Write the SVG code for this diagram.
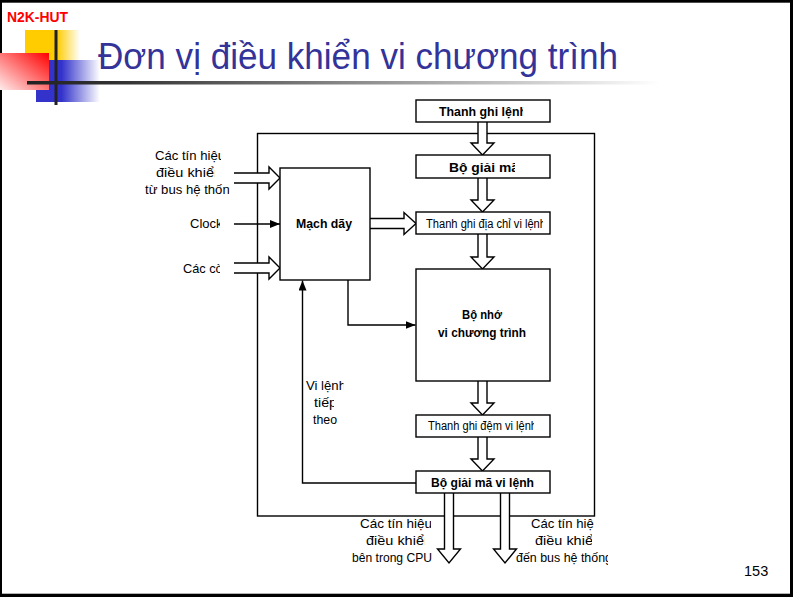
<svg xmlns="http://www.w3.org/2000/svg" width="793" height="597" viewBox="0 0 793 597">
  <defs>
    <style>
      .t { font-family: "Liberation Sans", Arial, sans-serif; font-size: 13px; fill: #000; }
      .b { font-weight: bold; }
      .s { font-size: 12px; }
      .box { fill: #fff; stroke: #000; stroke-width: 1.4; }
      .ln { fill: none; stroke: #000; stroke-width: 1.4; }
      .blk { fill: #fff; stroke: #000; stroke-width: 1.4; stroke-linejoin: miter; }
    </style>
    <marker id="ah" viewBox="0 0 10 8" refX="10" refY="4" markerWidth="10" markerHeight="8" markerUnits="userSpaceOnUse" orient="auto">
      <path d="M0,0 L10,4 L0,8 z" fill="#000"/>
    </marker>
    <linearGradient id="gYellow" x1="0" y1="0" x2="1" y2="0">
      <stop offset="0" stop-color="#FFCC00"/>
      <stop offset="0.58" stop-color="#FFCC00"/>
      <stop offset="1" stop-color="#FFFFFF"/>
    </linearGradient>
    <linearGradient id="gBlue" x1="0" y1="0" x2="1" y2="0">
      <stop offset="0" stop-color="#3333CC"/>
      <stop offset="0.4" stop-color="#3333CC"/>
      <stop offset="1" stop-color="#FFFFFF"/>
    </linearGradient>
    <linearGradient id="gRed" x1="1" y1="0" x2="0" y2="1">
      <stop offset="0" stop-color="#FF0000"/>
      <stop offset="1" stop-color="#FFECEC"/>
    </linearGradient>
    <linearGradient id="gRule" gradientUnits="userSpaceOnUse" x1="27" y1="0" x2="660" y2="0">
      <stop offset="0" stop-color="#222222"/>
      <stop offset="0.15" stop-color="#333333"/>
      <stop offset="1" stop-color="#FFFFFF"/>
    </linearGradient>
    <clipPath id="c1"><rect x="0" y="0" width="221" height="597"/></clipPath>
    <clipPath id="c2"><rect x="0" y="0" width="214.5" height="597"/></clipPath>
    <clipPath id="c3"><rect x="0" y="0" width="229.5" height="597"/></clipPath>
    <clipPath id="c4"><rect x="0" y="0" width="220" height="597"/></clipPath>
    <clipPath id="c7"><rect x="0" y="0" width="523" height="597"/></clipPath>
    <clipPath id="c8"><rect x="0" y="0" width="515" height="597"/></clipPath>
    <clipPath id="c9"><rect x="0" y="0" width="543" height="597"/></clipPath>
    <clipPath id="c12"><rect x="0" y="0" width="534" height="597"/></clipPath>
    <clipPath id="c14"><rect x="0" y="0" width="343.5" height="597"/></clipPath>
    <clipPath id="c15"><rect x="0" y="0" width="334" height="597"/></clipPath>
    <clipPath id="c17"><rect x="0" y="0" width="431" height="597"/></clipPath>
    <clipPath id="c18"><rect x="0" y="0" width="424.5" height="597"/></clipPath>
    <clipPath id="c20"><rect x="0" y="0" width="594" height="597"/></clipPath>
    <clipPath id="c21"><rect x="0" y="0" width="592" height="597"/></clipPath>
    <clipPath id="c22"><rect x="0" y="0" width="608" height="597"/></clipPath>
  </defs>

  <!-- slide frame -->
  <rect x="0" y="0" width="793" height="597" fill="#000"/>
  <rect x="2" y="2.7" width="788" height="591" fill="#fff"/>

  <!-- header ornament -->
  <g id="header">
    <rect x="25" y="30" width="55" height="30" fill="url(#gYellow)"/>
    <rect x="36" y="60" width="64" height="42" fill="url(#gBlue)"/>
    <rect x="0" y="53" width="49" height="37" fill="url(#gRed)"/>
    <rect x="54.5" y="30" width="3" height="75" fill="#222"/>
    <rect x="27" y="81" width="640" height="3.5" fill="url(#gRule)"/>
    <text x="7" y="21.5" font-family="Liberation Sans, Arial, sans-serif" font-size="15.5" font-weight="bold" fill="#FF0000" textLength="61" lengthAdjust="spacingAndGlyphs">N2K-HUT</text>
    <text x="98" y="69" font-family="Liberation Sans, Arial, sans-serif" font-size="37" fill="#333399" textLength="520" lengthAdjust="spacingAndGlyphs">Đơn vị điều khiển vi chương trình</text>
  </g>

  <!-- control unit boundary -->
  <g id="control-unit">
    <rect class="ln" x="257.5" y="133.5" width="337" height="382.5"/>
  </g>

  <!-- connectors -->
  <g id="connectors">
    <!-- block arrows down the right column -->
    <path class="blk" d="M478,122 V143 H471 L482.5,155 L494,143 H487 V122"/>
    <path class="blk" d="M478,178 V200 H471 L482.5,212 L494,200 H487 V178"/>
    <path class="blk" d="M478,234 V257 H471 L482.5,269 L494,257 H487 V234"/>
    <path class="blk" d="M478,381 V403 H471 L482.5,415 L494,403 H487 V381"/>
    <path class="blk" d="M478,437 V459 H471 L482.5,471 L494,459 H487 V437"/>
    <!-- control outputs -->
    <path class="blk" d="M444.5,493 V549 H437.5 L449,563 L460.5,549 H453.5 V493"/>
    <path class="blk" d="M500.5,493 V549 H493.5 L505,563 L516.5,549 H509.5 V493"/>
    <!-- inputs into the wired logic -->
    <path class="blk" d="M234,173 H269 V167 L280,178 L269,189 V183 H234"/>
    <path class="blk" d="M234,263 H269 V257 L280,268 L269,279 V273 H234"/>
    <path class="blk" d="M370,218.5 H404 V212.5 L416,223.5 L404,234.5 V228.5 H370"/>
    <!-- single-line signals -->
    <path class="ln" d="M234,224 H280" marker-end="url(#ah)"/>
    <path class="ln" d="M348,280 V325 H415.5" marker-end="url(#ah)"/>
    <path class="ln" d="M416,483 H302.5 V280.5" marker-end="url(#ah)"/>
  </g>

  <!-- nodes -->
  <g id="mach-day">
    <rect class="box" x="280" y="168" width="90" height="112"/>
    <text class="t b" x="296" y="228" textLength="56" lengthAdjust="spacingAndGlyphs">Mạch dãy</text>
  </g>
  <g id="thanh-ghi-lenh">
    <rect class="box" x="416" y="100" width="134" height="22"/>
    <text class="t b" x="439" y="116" textLength="88" lengthAdjust="spacingAndGlyphs" clip-path="url(#c7)">Thanh ghi lệnh</text>
  </g>
  <g id="bo-giai-ma">
    <rect class="box" x="416" y="155" width="134" height="23"/>
    <text class="t b" x="449" y="172" textLength="70" lengthAdjust="spacingAndGlyphs" clip-path="url(#c8)">Bộ giải mã</text>
  </g>
  <g id="thanh-ghi-dia-chi-vi-lenh">
    <rect class="box" x="416" y="212" width="134" height="22"/>
    <text class="t s" x="426" y="228" textLength="120" lengthAdjust="spacingAndGlyphs" clip-path="url(#c9)">Thanh ghi địa chỉ vi lệnh</text>
  </g>
  <g id="bo-nho-vi-chuong-trinh">
    <rect class="box" x="416" y="269" width="134" height="112"/>
    <text class="t b" x="462" y="319" textLength="40" lengthAdjust="spacingAndGlyphs">Bộ nhớ</text>
    <text class="t b" x="438" y="337" textLength="88" lengthAdjust="spacingAndGlyphs">vi chương trình</text>
  </g>
  <g id="thanh-ghi-dem-vi-lenh">
    <rect class="box" x="416" y="415" width="134" height="22"/>
    <text class="t s" x="428" y="430" textLength="109" lengthAdjust="spacingAndGlyphs" clip-path="url(#c12)">Thanh ghi đệm vi lệnh</text>
  </g>
  <g id="bo-giai-ma-vi-lenh">
    <rect class="box" x="416" y="471" width="134" height="22"/>
    <text class="t b" x="431" y="487" textLength="103" lengthAdjust="spacingAndGlyphs">Bộ giải mã vi lệnh</text>
  </g>

  <!-- signal labels -->
  <g id="labels">
    <text class="t" x="155" y="160" textLength="70" lengthAdjust="spacingAndGlyphs" clip-path="url(#c1)">Các tín hiệu</text>
    <text class="t" x="156" y="177" textLength="66" lengthAdjust="spacingAndGlyphs" clip-path="url(#c2)">điều khiển</text>
    <text class="t" x="145" y="194" textLength="92" lengthAdjust="spacingAndGlyphs" clip-path="url(#c3)">từ bus hệ thống</text>
    <text class="t" x="190" y="228" textLength="32.5" lengthAdjust="spacingAndGlyphs" clip-path="url(#c4)">Clock</text>
    <text class="t" x="183" y="273" textLength="41" lengthAdjust="spacingAndGlyphs" clip-path="url(#c4)">Các cờ</text>
    <text class="t" x="306" y="390" textLength="40" lengthAdjust="spacingAndGlyphs" clip-path="url(#c14)">Vi lệnh</text>
    <text class="t" x="314" y="407" textLength="23" lengthAdjust="spacingAndGlyphs" clip-path="url(#c15)">tiếp</text>
    <text class="t" x="313" y="424" textLength="24" lengthAdjust="spacingAndGlyphs">theo</text>
    <text class="t" x="360" y="528" textLength="72" lengthAdjust="spacingAndGlyphs" clip-path="url(#c17)">Các tín hiệu</text>
    <text class="t" x="366" y="545" textLength="66" lengthAdjust="spacingAndGlyphs" clip-path="url(#c18)">điều khiển</text>
    <text class="t" x="352" y="562" textLength="80" lengthAdjust="spacingAndGlyphs">bên trong CPU</text>
    <text class="t" x="531" y="528" textLength="70" lengthAdjust="spacingAndGlyphs" clip-path="url(#c20)">Các tín hiệu</text>
    <text class="t" x="535" y="545" textLength="66" lengthAdjust="spacingAndGlyphs" clip-path="url(#c21)">điều khiển</text>
    <text class="t" x="516" y="562" textLength="96" lengthAdjust="spacingAndGlyphs" clip-path="url(#c22)">đến bus hệ thống</text>
  </g>

  <!-- page number -->
  <text x="744" y="576" font-family="Liberation Sans, Arial, sans-serif" font-size="14.5" fill="#000">153</text>
</svg>
